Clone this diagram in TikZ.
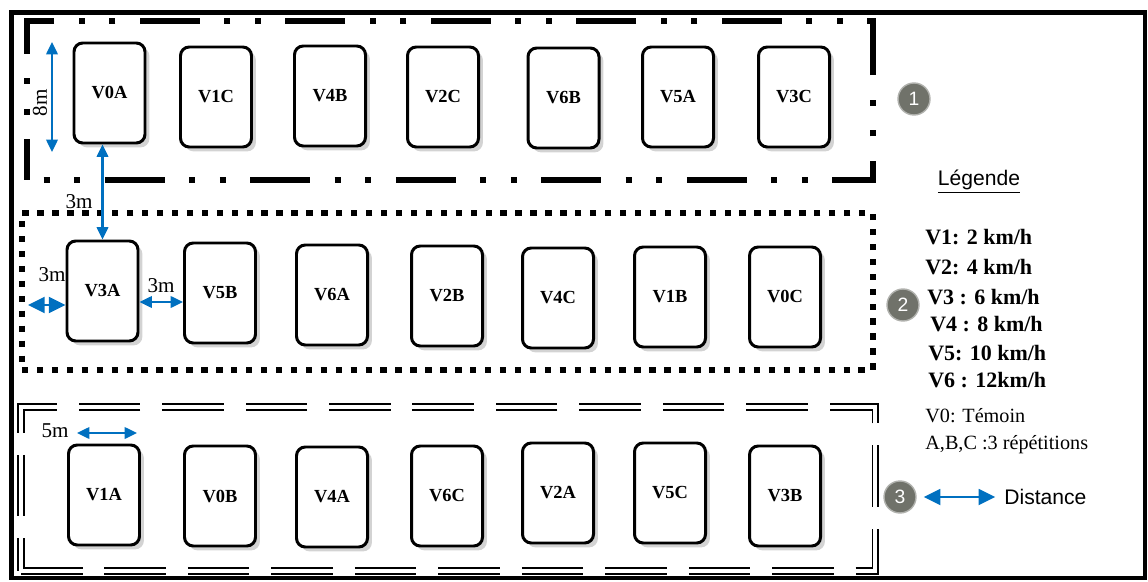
\documentclass[tikz,border=0pt]{standalone}
\usepackage{fontspec}
\setmainfont{Liberation Serif}
\setsansfont{Liberation Sans}
\usepackage{xcolor}
\definecolor{dimblue}{RGB}{0,112,192}
\definecolor{numgrey}{RGB}{112,114,106}
\usetikzlibrary{arrows.meta,positioning,calc,shadows}
\tikzset{
  plot/.style={draw, line width=1.7pt, rounded corners=5pt, fill=white, minimum width=1.42cm, minimum height=2.0cm, inner sep=0pt, font=\fontsize{10.5}{12}\selectfont\bfseries, drop shadow={opacity=0.35, shadow xshift=2.5pt, shadow yshift=-2.5pt}},
  zoneA/.style={draw, line width=3.4pt, dash pattern=on 34pt off 14pt on 3.4pt off 14pt on 3.4pt off 14pt, dash phase=38.5pt, inner sep=0pt},
  zoneB/.style={draw, line width=3.4pt, dash pattern=on 3.6pt off 4.9pt, inner sep=0pt},
  zoneC/.style={draw, double, line width=1.1pt, double distance=1.8pt, dash pattern=on 35pt off 12.5pt, inner sep=0pt},
  num/.style={circle, fill=numgrey, draw=numgrey!55!white, line width=0.8pt, text=white, minimum size=0.64cm, inner sep=0pt, font=\sffamily\fontsize{11}{12}\selectfont},
  dim/.style={{Triangle[length=7pt,width=6.5pt]}-{Triangle[length=7pt,width=6.5pt]}, dimblue, line width=1.2pt},
  dimbig/.style={{Triangle[length=9.5pt,width=9pt]}-{Triangle[length=9.5pt,width=9pt]}, dimblue, line width=1.4pt},
  dlbl/.style={font=\fontsize{12}{14}\selectfont, inner sep=0pt},
  leg/.style={anchor=west, inner sep=0pt, font=\fontsize{12.5}{15}\selectfont\bfseries},
  legn/.style={anchor=west, inner sep=0pt, font=\fontsize{11.5}{14}\selectfont}
}

\begin{document}
\begin{tikzpicture}
  \useasboundingbox (0,0) rectangle (22.96,-11.64);
  \draw[line width=2.8pt] (0.23,-0.25) rectangle (22.9,-11.56);
  % blocs
  \node[zoneA, minimum width=16.92cm, minimum height=3.18cm] (z1) at (9.0,-2.01) {};
  \node[zoneB, minimum width=17.02cm, minimum height=3.14cm] (z2) at (8.95,-5.83) {};
  \node[zoneC, minimum width=17.08cm, minimum height=3.28cm] (z3) at (8.96,-9.78) {};
  % bloc 1
  \node[plot] (v0a) at (2.19,-1.86) {V0A};
  \node[plot] (v1c) at (4.32,-1.94) {V1C};
  \node[plot] (v4b) at (6.60,-1.92) {V4B};
  \node[plot] (v2c) at (8.86,-1.94) {V2C};
  \node[plot] (v6b) at (11.27,-1.96) {V6B};
  \node[plot] (v5a) at (13.56,-1.94) {V5A};
  \node[plot] (v3c) at (15.88,-1.94) {V3C};
  % bloc 2
  \node[plot] (v3a) at (2.05,-5.82) {V3A};
  \node[plot] (v5b) at (4.40,-5.86) {V5B};
  \node[plot] (v6a) at (6.64,-5.90) {V6A};
  \node[plot] (v2b) at (8.94,-5.92) {V2B};
  \node[plot] (v4c) at (11.16,-5.96) {V4C};
  \node[plot] (v1b) at (13.40,-5.94) {V1B};
  \node[plot] (v0c) at (15.70,-5.94) {V0C};
  % bloc 3
  \node[plot] (v1a) at (2.08,-9.90) {V1A};
  \node[plot] (v0b) at (4.40,-9.92) {V0B};
  \node[plot] (v4a) at (6.64,-9.94) {V4A};
  \node[plot] (v6c) at (8.94,-9.92) {V6C};
  \node[plot] (v2a) at (11.16,-9.86) {V2A};
  \node[plot] (v5c) at (13.40,-9.86) {V5C};
  \node[plot] (v3b) at (15.70,-9.92) {V3B};
  % distances
  \coordinate (h8t) at (1.04,-0.84);
  \coordinate (h8b) at (1.04,-3.04);
  \draw[dim] (h8t) -- (h8b);
  \node[dlbl, rotate=90] (l8) at (0.80,-2.06) {8m};
  \draw[dim] (v3a.north |- v0a.south) -- (v3a.north);
  \node[dlbl] (l3v) at (1.58,-4.04) {3m};
  \coordinate (w3) at (0.56,-6.10);
  \draw[dimbig] (w3) -- (w3 -| v3a.west);
  \node[dlbl] (l3w) at (1.04,-5.50) {3m};
  \coordinate (m3) at ([yshift=-0.22cm]v3a.east);
  \draw[dim] (m3) -- (m3 -| v5b.west);
  \node[dlbl] (l3m) at (3.22,-5.72) {3m};
  \coordinate (t5a) at (1.54,-8.66);
  \coordinate (t5b) at (2.74,-8.66);
  \draw[dim] (t5a) -- (t5b);
  \node[dlbl] (l5) at (1.10,-8.62) {5m};
  % numeros
  \node[num] (c1) at (18.28,-1.98) {1};
  \node[num] (c2) at (18.06,-6.10) {2};
  \node[num] (c3) at (18.00,-9.94) {3};
  % legende
  \node[font=\sffamily\fontsize{12}{14}\selectfont] (legt) at (19.58,-3.64) {\underline{Légende}};
  \node[leg] (g1) at (18.50,-4.74) {V1: 2 km/h};
  \node[leg] (g2) at (18.50,-5.34) {V2: 4 km/h};
  \node[leg] (g3) at (18.54,-5.94) {V3 : 6 km/h};
  \node[leg] (g4) at (18.60,-6.48) {V4 : 8 km/h};
  \node[leg] (g5) at (18.56,-7.06) {V5: 10 km/h};
  \node[leg] (g6) at (18.56,-7.60) {V6 : 12km/h};
  \node[legn] (g0) at (18.50,-8.32) {V0: Témoin};
  \node[legn] (gr) at (18.50,-8.90) {A,B,C :3 répétitions};
  \node[font=\sffamily\fontsize{12}{14}\selectfont, anchor=west, inner sep=0pt] (dist) at (20.08,-9.94) {Distance};
  \draw[dimbig, shorten <=4pt, shorten >=5pt] (c3) -- (dist);
\end{tikzpicture}
\end{document}
